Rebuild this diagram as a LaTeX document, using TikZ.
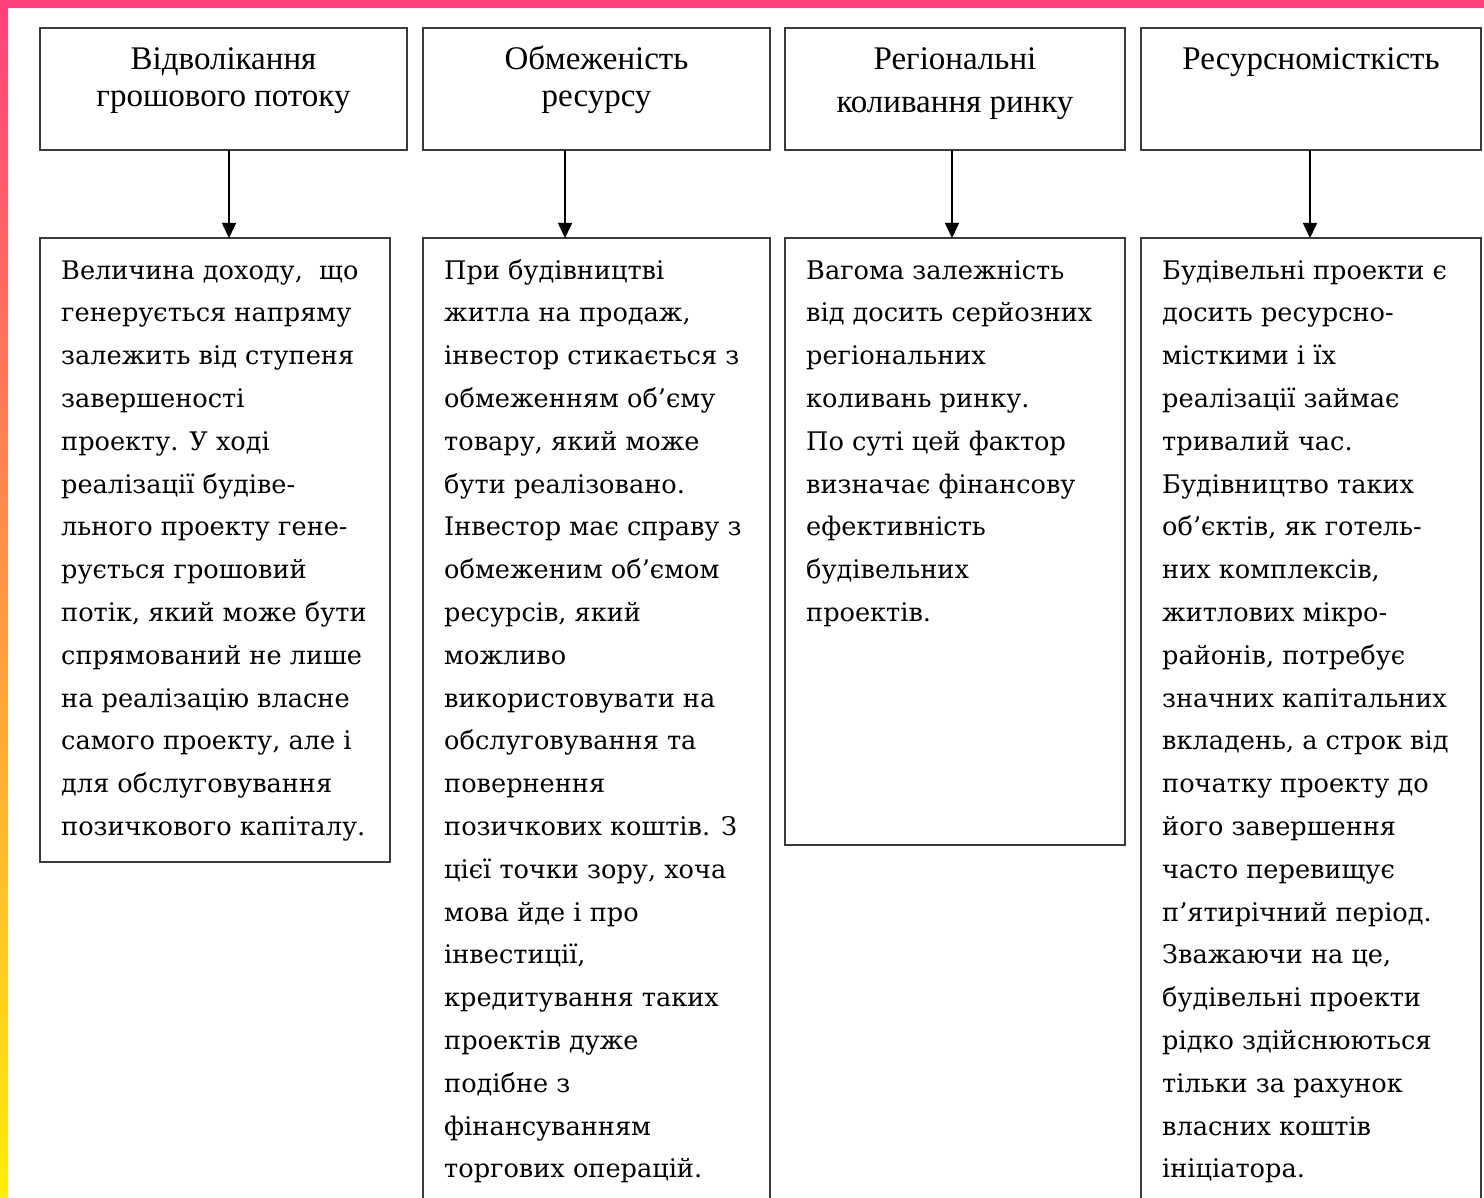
\documentclass[tikz,border=0pt]{standalone}
\usepackage{fontspec}
\setmainfont{Liberation Serif}
\newfontfamily\bodyfont{DejaVu Serif}
\usetikzlibrary{arrows.meta, positioning}
\definecolor{framePink}{HTML}{FF417B}
\definecolor{frameOrange}{HTML}{FF8A45}
\definecolor{frameYellow}{HTML}{FFEE0A}
\definecolor{boxLine}{HTML}{3A3A3A}
\begin{document}
\begin{tikzpicture}[ x = 1pt, y = -1pt,
    headbox/.style = { shape=rectangle, draw = boxLine, line width = 1.6pt, inner sep = 0pt, outer sep = 0pt, minimum height = 122pt, anchor = north west },
    bodybox/.style = { shape=rectangle, draw = boxLine, line width = 1.6pt, inner sep = 0pt, outer sep = 0pt },
    headtext/.style = { anchor = north, inner sep = 0pt, align = center, font = \fontsize{33}{37}\selectfont },
    bodytext/.style = { anchor = north west, inner sep = 0pt, align = left, font = \bodyfont\fontsize{25.6}{42.8}\selectfont },
    arrowline/.style = { -{Triangle[width = 14pt, length = 15pt]}, line width = 1.5pt, draw = black } ]
    \clip (0,0) rectangle (1484,1198);
    \fill [white] (0,0) rectangle (1484,1198);
    % frame
    \fill [framePink] (0,0) rectangle (1484,8);
    \shade [top color = framePink, middle color = frameOrange, bottom color = frameYellow] (0,0) rectangle (8,1198);
    % top row
    \node (hCash) [ headbox, minimum width = 367pt ] at (40,28) {};
    \node (hLimit) [ headbox, minimum width = 347pt ] at (423,28) {};
    \node (hRegion) [ headbox, minimum width = 340pt ] at (785,28) {};
    \node (hResource) [ headbox, minimum width = 340pt ] at (1141,28) {};
    \node (lCash) [ headtext ] at ([shift={(0,15)}]hCash.north) {\strut Відволікання\\ грошового потоку};
    \node (lLimit) [ headtext ] at ([shift={(0,15)}]hLimit.north) {\strut Обмеженість\\ ресурсу};
    \node (lRegion) [ headtext ] at ([shift={(0,15)}]hRegion.north) {\strut Регіональні\\[6pt] коливання ринку};
    \node (lResource) [ headtext ] at ([shift={(0,15)}]hResource.north) {\strut Ресурсномісткість};
    % bottom row
    \node (bCash) [ bodybox, below right = 88pt and 0pt of hCash.south west, minimum width = 350pt, minimum height = 624pt ] {};
    \node (bLimit) [ bodybox, below right = 88pt and 0pt of hLimit.south west, minimum width = 347pt, minimum height = 1000pt ] {};
    \node (bRegion) [ bodybox, below right = 88pt and 0pt of hRegion.south west, minimum width = 340pt, minimum height = 607pt ] {};
    \node (bResource) [ bodybox, below right = 88pt and 0pt of hResource.south west, minimum width = 340pt, minimum height = 1000pt ] {};
    \node (tCash) [ bodytext ] at ([shift={(21,11)}]bCash.north west) {\strut Величина доходу,\ \ що\\
        генерується напряму\\ залежить від ступеня\\ завершеності\\ проекту. У ході\\
        реалізації будіве-\\ льного проекту гене-\\ рується грошовий\\ потік, який може бути\\
        спрямований не лише\\ на реалізацію власне\\ самого проекту, але і\\
        для обслуговування\\ позичкового капіталу.};
    \node (tLimit) [ bodytext ] at ([shift={(21,11)}]bLimit.north west) {\strut При будівництві\\
        житла на продаж,\\ інвестор стикається з\\ обмеженням об’єму\\ товару, який може\\
        бути реалізовано.\\ Інвестор має справу з\\ обмеженим об’ємом\\ ресурсів, який\\
        можливо\\ використовувати на\\ обслуговування та\\ повернення\\
        позичкових коштів. З\\ цієї точки зору, хоча\\ мова йде і про\\ інвестиції,\\
        кредитування таких\\ проектів дуже\\ подібне з\\ фінансуванням\\ торгових операцій.};
    \node (tRegion) [ bodytext ] at ([shift={(21,11)}]bRegion.north west) {\strut Вагома залежність\\
        від досить серйозних\\ регіональних\\ коливань ринку.\\ По суті цей фактор\\
        визначає фінансову\\ ефективність\\ будівельних\\ проектів.};
    \node (tResource) [ bodytext ] at ([shift={(21,11)}]bResource.north west) {\strut Будівельні проекти є\\
        досить ресурсно-\\ місткими і їх\\ реалізації займає\\ тривалий час.\\
        Будівництво таких\\ об’єктів, як готель-\\ них комплексів,\\ житлових мікро-\\
        районів, потребує\\ значних капітальних\\ вкладень, а строк від\\
        початку проекту до\\ його завершення\\ часто перевищує\\ п’ятирічний період.\\
        Зважаючи на це,\\ будівельні проекти\\ рідко здійснюються\\ тільки за рахунок\\
        власних коштів\\ ініціатора.};
    % arrows
    \coordinate (aCash) at ([shift={(5.5,0)}]hCash.south);
    \coordinate (aLimit) at ([shift={(-31.5,0)}]hLimit.south);
    \coordinate (aRegion) at ([shift={(-3,0)}]hRegion.south);
    \coordinate (aResource) at ([shift={(-1,0)}]hResource.south);
    \draw [arrowline] (aCash) -- (aCash |- bCash.north);
    \draw [arrowline] (aLimit) -- (aLimit |- bLimit.north);
    \draw [arrowline] (aRegion) -- (aRegion |- bRegion.north);
    \draw [arrowline] (aResource) -- (aResource |- bResource.north);
\end{tikzpicture}
\end{document}
